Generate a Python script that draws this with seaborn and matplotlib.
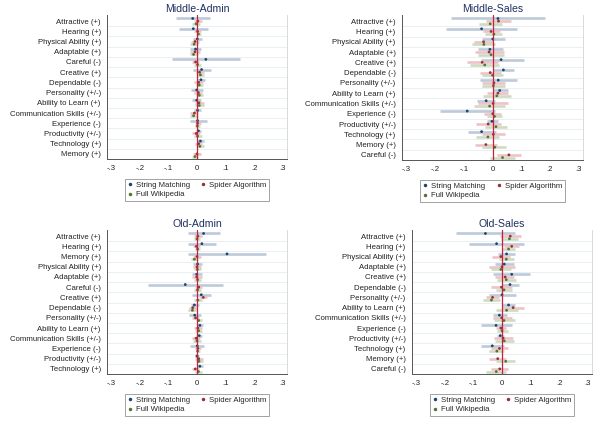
import numpy as np
import pandas as pd
import matplotlib
matplotlib.use("Agg")
import matplotlib.pyplot as plt
import seaborn as sns
from matplotlib.lines import Line2D

nan = np.nan
models = ["String Matching", "Spider Algorithm", "Full Wikipedia"]

# Middle-Admin
ma_cats = ["Attractive (+)", "Hearing (+)", "Physical Ability (+)", "Adaptable (+)", "Careful (-)",
           "Creative (+)", "Dependable (-)", "Personality (+/-)", "Ability to Learn (+)",
           "Communication Skills (+/-)", "Experience (-)", "Productivity (+/-)", "Technology (+)", "Memory (+)"]
ma_sm = [-0.015, -0.013, 0.001, -0.005, 0.031, 0.016, 0.014, -0.001, -0.001, 0.002, 0.002, 0.005, 0.012, nan]
ma_sm_lo = [-0.072, -0.063, -0.013, -0.023, -0.086, -0.014, 0.000, -0.021, -0.016, -0.009, -0.026, -0.003, -0.001, nan]
ma_sm_hi = [0.045, 0.037, 0.016, 0.014, 0.151, 0.048, 0.029, 0.022, 0.015, 0.014, 0.034, 0.014, 0.024, nan]
ma_sp = [0.003, 0.002, -0.007, -0.007, -0.005, 0.009, 0.006, 0.005, 0.007, -0.009, 0.002, -0.003, 0.006, 0.000]
ma_sp_lo = [-0.012, -0.009, -0.021, -0.023, -0.016, -0.005, -0.009, -0.009, -0.008, -0.023, -0.007, -0.016, -0.006, -0.013]
ma_sp_hi = [0.019, 0.014, 0.007, 0.012, 0.008, 0.023, 0.021, 0.017, 0.023, 0.005, 0.013, 0.009, 0.019, 0.014]
ma_fw = [-0.003, 0.005, -0.010, -0.012, 0.002, 0.012, 0.008, 0.008, 0.008, -0.012, 0.001, 0.002, 0.010, -0.007]
ma_fw_lo = [-0.016, -0.005, -0.023, -0.026, -0.009, 0.000, -0.005, -0.003, -0.006, -0.026, -0.006, -0.012, -0.001, -0.017]
ma_fw_hi = [0.010, 0.014, 0.002, 0.002, 0.014, 0.024, 0.021, 0.021, 0.024, 0.002, 0.009, 0.016, 0.024, 0.003]

# Middle-Sales
ms_cats = ["Attractive (+)", "Hearing (+)", "Physical Ability (+)", "Adaptable (+)", "Creative (+)",
           "Dependable (-)", "Personality (+/-)", "Ability to Learn (+)", "Communication Skills (+/-)",
           "Experience (-)", "Productivity (+/-)", "Technology (+)", "Memory (+)", "Careful (-)"]
ms_sm = [0.019, -0.038, 0.001, -0.009, 0.030, 0.038, 0.020, 0.025, -0.022, -0.088, -0.002, -0.038, nan, nan]
ms_sm_lo = [-0.144, -0.161, -0.038, -0.052, -0.039, 0.001, -0.044, 0.001, -0.054, -0.182, -0.020, -0.086, nan, nan]
ms_sm_hi = [0.181, 0.086, 0.042, 0.035, 0.111, 0.076, 0.085, 0.054, 0.010, 0.008, 0.020, 0.013, nan, nan]
ms_sp = [0.021, -0.005, -0.031, -0.012, -0.036, -0.008, 0.005, 0.019, 0.002, 0.001, -0.015, 0.003, -0.023, 0.057]
ms_sp_lo = [-0.024, -0.034, -0.066, -0.061, -0.089, -0.045, -0.037, -0.019, -0.050, -0.028, -0.059, -0.038, -0.061, 0.016]
ms_sp_hi = [0.065, 0.027, 0.003, 0.041, 0.019, 0.031, 0.045, 0.054, 0.054, 0.030, 0.031, 0.042, 0.016, 0.098]
ms_fw = [-0.008, 0.005, -0.030, -0.005, -0.027, 0.000, 0.003, 0.015, -0.010, 0.007, 0.012, -0.016, 0.008, 0.035]
ms_fw_lo = [-0.048, -0.025, -0.071, -0.050, -0.078, -0.038, -0.038, -0.034, -0.066, -0.020, -0.027, -0.056, -0.036, -0.008]
ms_fw_hi = [0.034, 0.034, 0.010, 0.041, 0.023, 0.038, 0.045, 0.064, 0.045, 0.034, 0.050, 0.024, 0.048, 0.080]

# Old-Admin
oa_cats = ["Attractive (+)", "Hearing (+)", "Memory (+)", "Physical Ability (+)", "Adaptable (+)",
           "Careful (-)", "Creative (+)", "Dependable (-)", "Personality (+/-)", "Ability to Learn (+)",
           "Communication Skills (+/-)", "Experience (-)", "Productivity (+/-)", "Technology (+)"]
oa_sm = [0.023, 0.017, 0.105, 0.002, -0.001, -0.041, 0.015, -0.009, -0.008, 0.010, 0.008, 0.001, 0.000, 0.010]
oa_sm_lo = [-0.030, -0.030, -0.030, -0.013, -0.019, -0.173, -0.016, -0.021, -0.028, 0.000, -0.002, -0.023, -0.007, -0.001]
oa_sm_hi = [0.080, 0.065, 0.240, 0.017, 0.017, 0.092, 0.048, 0.006, 0.015, 0.022, 0.019, 0.026, 0.007, 0.022]
oa_sp = [0.003, -0.002, 0.000, 0.000, -0.001, 0.006, 0.022, -0.015, -0.005, 0.003, -0.003, 0.003, 0.006, -0.006]
oa_sp_lo = [-0.009, -0.014, -0.014, -0.013, -0.019, -0.007, 0.008, -0.028, -0.016, -0.009, -0.016, -0.006, -0.007, -0.016]
oa_sp_hi = [0.016, 0.009, 0.014, 0.013, 0.017, 0.019, 0.036, -0.001, 0.007, 0.016, 0.010, 0.013, 0.020, 0.006]
oa_fw = [0.000, 0.002, -0.009, 0.001, 0.002, 0.002, 0.003, -0.016, 0.006, 0.006, 0.000, 0.002, 0.007, 0.005]
oa_fw_lo = [-0.012, -0.007, -0.021, -0.012, -0.010, -0.009, -0.009, -0.030, -0.005, -0.007, -0.013, -0.005, -0.005, -0.007]
oa_fw_hi = [0.012, 0.012, 0.002, 0.014, 0.015, 0.014, 0.016, -0.002, 0.016, 0.019, 0.013, 0.010, 0.020, 0.016]

# Old-Sales
os_cats = ["Attractive (+)", "Hearing (+)", "Physical Ability (+)", "Adaptable (+)", "Creative (+)",
           "Dependable (-)", "Personality (+/-)", "Ability to Learn (+)", "Communication Skills (+/-)",
           "Experience (-)", "Productivity (+/-)", "Technology (+)", "Memory (+)", "Careful (-)"]
os_sm = [-0.058, -0.019, 0.016, 0.008, 0.034, 0.028, 0.000, 0.023, -0.009, -0.021, -0.006, -0.034, nan, nan]
os_sm_lo = [-0.161, -0.115, -0.013, -0.023, -0.030, -0.001, -0.044, 0.001, -0.033, -0.074, -0.018, -0.074, nan, nan]
os_sm_hi = [0.047, 0.076, 0.046, 0.041, 0.099, 0.061, 0.049, 0.047, 0.016, 0.034, 0.008, 0.008, nan, nan]
os_sp = [0.029, 0.034, -0.004, 0.000, 0.011, -0.002, -0.033, 0.039, -0.001, -0.004, 0.004, -0.009, -0.015, -0.008]
os_sp_lo = [-0.006, 0.006, -0.035, -0.044, -0.023, -0.039, -0.056, 0.000, -0.033, -0.021, -0.029, -0.039, -0.044, -0.039]
os_sp_hi = [0.067, 0.061, 0.029, 0.046, 0.043, 0.034, -0.009, 0.078, 0.034, 0.014, 0.037, 0.020, 0.014, 0.022]
os_fw = [0.026, 0.023, 0.015, -0.004, 0.015, 0.007, -0.037, 0.016, 0.007, 0.000, 0.008, -0.018, 0.013, -0.020]
os_fw_lo = [-0.004, 0.001, -0.012, -0.039, -0.019, -0.021, -0.067, -0.021, -0.029, -0.018, -0.025, -0.044, -0.021, -0.055]
os_fw_hi = [0.057, 0.046, 0.043, 0.032, 0.049, 0.035, -0.007, 0.057, 0.046, 0.020, 0.041, 0.008, 0.047, 0.014]

xticks = [-0.3, -0.2, -0.1, 0, 0.1, 0.2, 0.3]
xtick_labels = ["-.3", "-.2", "-.1", "0", ".1", ".2", ".3"]

dot_colors = {"String Matching": "#1a476f", "Spider Algorithm": "#90353b", "Full Wikipedia": "#55752f"}
ci_colors = {"String Matching": "#bccad9", "Spider Algorithm": "#eec3c7", "Full Wikipedia": "#cfdbc0"}
offsets = {"String Matching": -0.26, "Spider Algorithm": 0.0, "Full Wikipedia": 0.26}

sns.set_style("white")
plt.rcParams["font.family"] = ["Liberation Sans", "DejaVu Sans"]


def long_frame(cats, sm, sm_lo, sm_hi, sp, sp_lo, sp_hi, fw, fw_lo, fw_hi):
    parts = []
    for m, b, lo, hi in zip(models, [sm, sp, fw], [sm_lo, sp_lo, fw_lo], [sm_hi, sp_hi, fw_hi]):
        parts.append(pd.DataFrame({"cat": cats, "pos": np.arange(len(cats)) + offsets[m],
                                   "b": b, "lo": lo, "hi": hi, "model": m}))
    return pd.concat(parts, ignore_index=True).dropna()


def panel(ax, title, cats, df):
    for y in np.arange(len(cats) - 1) + 0.5:
        ax.axhline(y, color="#e6eef0", lw=0.6, zorder=0)
    for m in models:
        d = df[df.model == m]
        ax.hlines(d["pos"], d["lo"], d["hi"], color=ci_colors[m], lw=1.9, zorder=2)
    sns.scatterplot(data=df, x="b", y="pos", hue="model", palette=dot_colors, hue_order=models,
                    s=4, marker="o", linewidth=0, legend=False, ax=ax, zorder=3)
    ax.axvline(0, color="#c8203c", lw=0.9, zorder=4)
    ax.set_xlim(-0.315, 0.315)
    ax.set_ylim(len(cats) - 0.5, -0.6)
    ax.set_yticks(range(len(cats)))
    ax.set_yticklabels(cats, fontsize=5.6, color="#222222")
    ax.set_xticks(xticks)
    ax.set_xticklabels(xtick_labels, fontsize=5.6, color="#222222")
    ax.tick_params(axis="both", length=3, width=0.6, color="#444444", pad=1.5)
    ax.set_xlabel("")
    ax.set_ylabel("")
    for s in ["left", "bottom"]:
        ax.spines[s].set_color("#555555")
        ax.spines[s].set_linewidth(0.7)
    ax.spines["right"].set_color("#d4d4d4")
    ax.spines["right"].set_linewidth(0.6)
    ax.spines["top"].set_visible(False)
    ax.set_title(title, fontsize=7.6, color="#1e3160", pad=2)
    handles = [Line2D([], [], ls="", marker="o", ms=1.5, color=dot_colors[m]) for m in models]
    order = [0, 2, 1]
    leg = ax.legend([handles[i] for i in order], [models[i] for i in order], ncol=2,
                    loc="upper center", bbox_to_anchor=(0.5, -0.11), fontsize=5.6,
                    frameon=True, fancybox=False, edgecolor="#8a8a8a", handlelength=0.6,
                    handletextpad=0.5, columnspacing=1.4, borderpad=0.35, labelspacing=0.25)
    leg.get_frame().set_linewidth(0.7)


fig = plt.figure(figsize=(6, 4.25), dpi=100)
ax1 = fig.add_axes([107 / 600, 1 - 159 / 425, 180 / 600, 144 / 425])
ax2 = fig.add_axes([402 / 600, 1 - 160 / 425, 181 / 600, 145 / 425])
ax3 = fig.add_axes([107 / 600, 1 - 374 / 425, 180 / 600, 144 / 425])
ax4 = fig.add_axes([412 / 600, 1 - 374 / 425, 180 / 600, 144 / 425])

panel(ax1, "Middle-Admin", ma_cats,
      long_frame(ma_cats, ma_sm, ma_sm_lo, ma_sm_hi, ma_sp, ma_sp_lo, ma_sp_hi, ma_fw, ma_fw_lo, ma_fw_hi))
panel(ax2, "Middle-Sales", ms_cats,
      long_frame(ms_cats, ms_sm, ms_sm_lo, ms_sm_hi, ms_sp, ms_sp_lo, ms_sp_hi, ms_fw, ms_fw_lo, ms_fw_hi))
panel(ax3, "Old-Admin", oa_cats,
      long_frame(oa_cats, oa_sm, oa_sm_lo, oa_sm_hi, oa_sp, oa_sp_lo, oa_sp_hi, oa_fw, oa_fw_lo, oa_fw_hi))
panel(ax4, "Old-Sales", os_cats,
      long_frame(os_cats, os_sm, os_sm_lo, os_sm_hi, os_sp, os_sp_lo, os_sp_hi, os_fw, os_fw_lo, os_fw_hi))

fig.savefig("out.png", dpi=100)
